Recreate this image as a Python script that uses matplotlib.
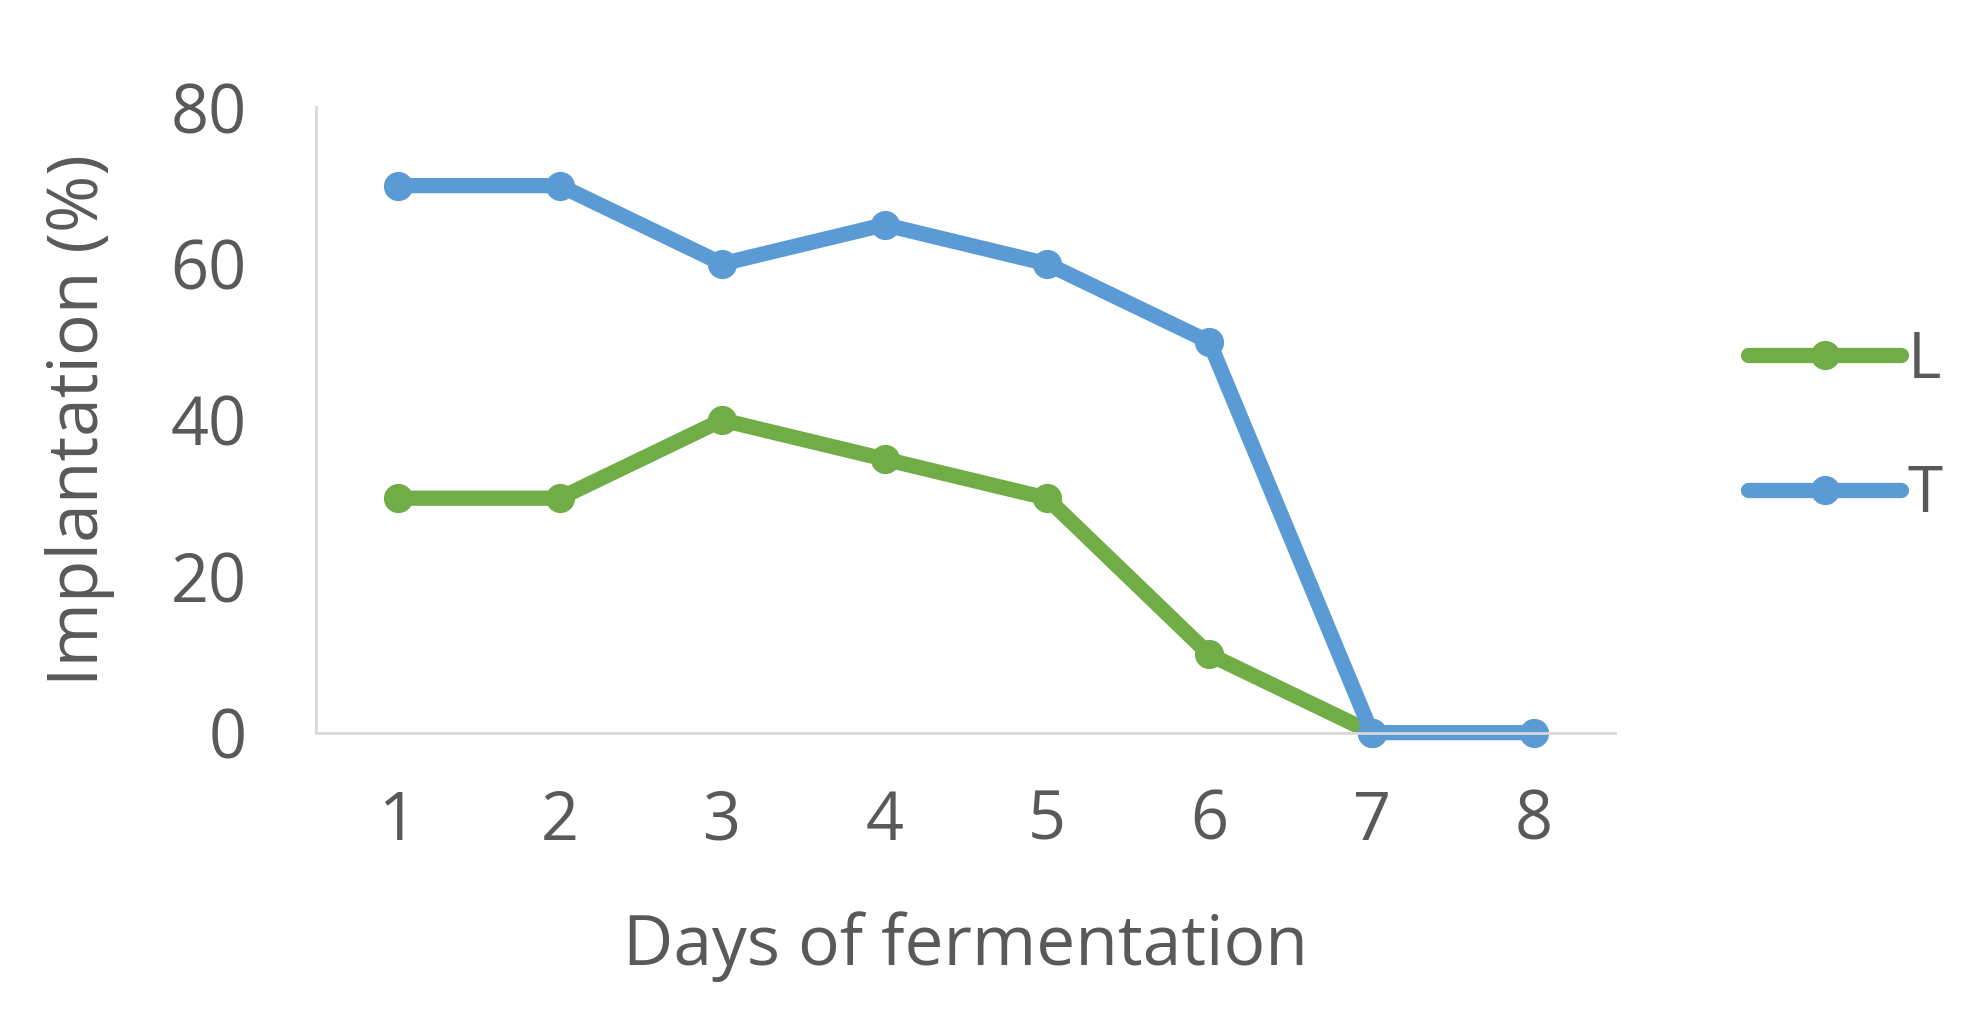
import matplotlib
matplotlib.use("Agg")
import matplotlib.pyplot as plt

days = [1, 2, 3, 4, 5, 6, 7, 8]
L_days = [1, 2, 3, 4, 5, 6, 7]
L_vals = [30, 30, 40, 35, 30, 10, 0]
T_vals = [70, 70, 60, 65, 60, 50, 0, 0]
yticks = [0, 20, 40, 60, 80]

plt.rcParams['font.family'] = ['Open Sans', 'DejaVu Sans']
txt = '#595959'
fig = plt.figure(figsize=(19.77, 10.14), dpi=100)
ax = fig.add_axes([0.160, 0.2775, 0.657, 0.6165])
ax.plot(L_days, L_vals, color='#70AD47', lw=11, marker='o', ms=20, label='L', solid_capstyle='round')
ax.plot(days, T_vals, color='#5B9BD5', lw=11, marker='o', ms=20, label='T', solid_capstyle='round')
ax.set_xlim(0.5, 8.5)
ax.set_ylim(0, 80)
ax.set_yticks(yticks)
ax.set_xticks(days)
ax.tick_params(length=0, labelsize=48, labelcolor=txt)
ax.tick_params(axis='x', pad=40)
ax.tick_params(axis='y', pad=50)
for s in ['top', 'right']:
    ax.spines[s].set_visible(False)
for s in ['left', 'bottom']:
    ax.spines[s].set_color('#D9D9D9')
    ax.spines[s].set_linewidth(2)
for l in ax.lines:
    l.set_clip_on(False)
ax.set_xlabel('Days of fermentation', fontsize=50, color=txt, labelpad=40)
ax.set_ylabel('Implantation (%)', fontsize=50, color=txt, labelpad=40)
fig.legend(loc='center left', bbox_to_anchor=(0.855, 0.578), frameon=False,
           fontsize=46, labelcolor=txt, handlelength=2.4, labelspacing=1.1, handletextpad=0.1)
fig.savefig('out.png', dpi=100)
